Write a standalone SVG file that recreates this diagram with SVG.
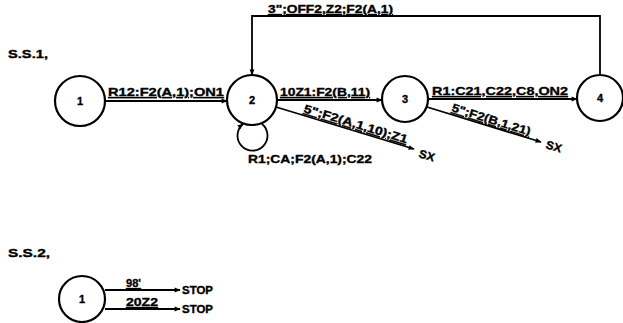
<svg xmlns="http://www.w3.org/2000/svg" width="623" height="323" viewBox="0 0 623 323">
<style>
  text { font-family: "Liberation Sans", Arial, sans-serif; font-weight: bold; fill: #000; stroke: #000; stroke-width: 0.35; }
  .lbl { font-size: 11.5px; text-decoration: underline; }
  .plain { font-size: 11.5px; }
  .num { font-size: 11px; text-anchor: middle; }
  .node { fill: #fff; stroke: #000; stroke-width: 2.2; }
  .edge { fill: none; stroke: #000; stroke-width: 1.8; }
</style>
<defs>
  <marker id="arr" viewBox="0 0 10 10" refX="9" refY="5" markerWidth="7" markerHeight="6" orient="auto" markerUnits="userSpaceOnUse">
    <path d="M0,1 L10,5 L0,9 z" fill="#000"/>
  </marker>
</defs>

<text class="plain" x="8" y="58" textLength="40" lengthAdjust="spacingAndGlyphs">S.S.1,</text>
<text class="plain" x="8" y="257" textLength="42" lengthAdjust="spacingAndGlyphs">S.S.2,</text>

<g id="connectors">
  <!-- S.S.1 -->
  <line class="edge" x1="105" y1="101" x2="227" y2="101" marker-end="url(#arr)"/>
  <text class="lbl" x="108" y="96" textLength="116" lengthAdjust="spacingAndGlyphs">R12:F2(A,1);ON1</text>

  <line class="edge" x1="277" y1="100" x2="382" y2="100" marker-end="url(#arr)"/>
  <text class="lbl" x="280" y="96" textLength="90" lengthAdjust="spacingAndGlyphs">10Z1:F2(B,11)</text>

  <line class="edge" x1="428" y1="99" x2="577" y2="99" marker-end="url(#arr)"/>
  <text class="lbl" x="432" y="95" textLength="136" lengthAdjust="spacingAndGlyphs">R1:C21,C22,C8,ON2</text>

  <polyline class="edge" points="600,74 600,16 252,16 252,75" marker-end="url(#arr)"/>
  <text class="lbl" x="268" y="13" textLength="125" lengthAdjust="spacingAndGlyphs">3";OFF2,Z2;F2(A,1)</text>

  <path class="edge" d="M262,124 A15,15 0 1 1 243,124" marker-end="url(#arr)"/>
  <text class="plain" x="248" y="163" textLength="124" lengthAdjust="spacingAndGlyphs">R1;CA;F2(A,1);C22</text>

  <line class="edge" x1="276" y1="107" x2="414" y2="149" marker-end="url(#arr)"/>
  <text class="lbl" x="303" y="112" textLength="108" lengthAdjust="spacingAndGlyphs" transform="rotate(16.9 303 112)">5";F2(A,1,10);Z1</text>
  <text class="plain" x="418" y="157" textLength="16" lengthAdjust="spacingAndGlyphs" transform="rotate(17 418 157)">SX</text>

  <line class="edge" x1="427" y1="107" x2="541" y2="142" marker-end="url(#arr)"/>
  <text class="lbl" x="451" y="111" textLength="82" lengthAdjust="spacingAndGlyphs" transform="rotate(17.4 451 111)">5";F2(B,1,21)</text>
  <text class="plain" x="545" y="148" textLength="16" lengthAdjust="spacingAndGlyphs" transform="rotate(17 545 148)">SX</text>

  <!-- S.S.2 -->
  <line class="edge" x1="105" y1="290" x2="180" y2="290" marker-end="url(#arr)"/>
  <text class="lbl" x="126" y="287" textLength="15" lengthAdjust="spacingAndGlyphs">98'</text>
  <text class="plain" x="182" y="294" textLength="31" lengthAdjust="spacingAndGlyphs">STOP</text>

  <line class="edge" x1="105" y1="309" x2="180" y2="309" marker-end="url(#arr)"/>
  <text class="lbl" x="126" y="306" textLength="32" lengthAdjust="spacingAndGlyphs">20Z2</text>
  <text class="plain" x="182" y="313" textLength="31" lengthAdjust="spacingAndGlyphs">STOP</text>
</g>

<g id="n1">
  <circle class="node" cx="80" cy="101" r="25"/>
  <text class="num" x="80" y="105">1</text>
</g>
<g id="n2">
  <circle class="node" cx="252" cy="100" r="25"/>
  <text class="num" x="252" y="104">2</text>
</g>
<g id="n3">
  <circle class="node" cx="405" cy="99" r="23"/>
  <text class="num" x="405" y="103">3</text>
</g>
<g id="n4">
  <circle class="node" cx="600" cy="98" r="23"/>
  <text class="num" x="600" y="102">4</text>
</g>
<g id="ss2-n1">
  <circle class="node" cx="82" cy="299" r="23"/>
  <text class="num" x="82" y="303">1</text>
</g>
</svg>
